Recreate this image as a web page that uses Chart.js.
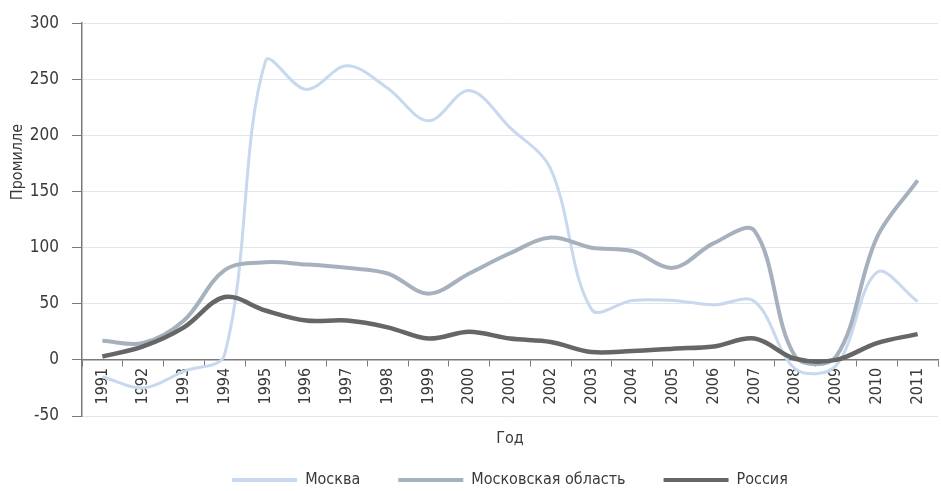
<!DOCTYPE html>
<html>
<head>
<meta charset="utf-8">
<script src="https://cdn.jsdelivr.net/npm/chart.js@4.4.1/dist/chart.umd.min.js"></script>
<style>
  html, body { margin: 0; padding: 0; background: #ffffff; }
  #chart { display: block; }
</style>
</head>
<body>
<canvas id="chart" width="941" height="491"></canvas>
<script>
const years = ['1991', '1992', '1993', '1994', '1995', '1996', '1997', '1998', '1999', '2000',
  '2001', '2002', '2003', '2004', '2005', '2006', '2007', '2008', '2009', '2010', '2011'];

const moscow = [-15, -25, -10, 5, 266, 241, 262, 242, 213, 240,
  207, 170, 45, 53, 53, 49, 52, -8, -5, 78, 52];
const moscowRegion = [17, 15, 35, 80, 87, 85, 82, 77, 59, 77,
  95, 109, 100, 97, 82, 104, 115, 3, 3, 109, 160];
const russia = [3, 12, 29, 56, 44, 35, 35, 29, 19, 25,
  19, 16, 7, 8, 10, 12, 19, 1, 0, 15, 23];

const yTicks = [-50, 0, 50, 100, 150, 200, 250, 300];

const family = "'Liberation Sans Narrow', 'DejaVu Sans Condensed', 'Roboto', sans-serif";
const textColor = '#3a3a3a';
const axisColor = '#7a7a7a';

Chart.defaults.font.family = family;
Chart.defaults.color = textColor;

// vertical title on the left, placed where the original puts it
const yTitle = {
  id: 'yTitle',
  afterDraw(chart) {
    const ctx = chart.ctx;
    ctx.save();
    ctx.translate(18, 162);
    ctx.rotate(-Math.PI / 2);
    ctx.font = '16px ' + family;
    ctx.fillStyle = textColor;
    ctx.textAlign = 'center';
    ctx.textBaseline = 'middle';
    ctx.fillText('Промилле', 0, 0);
    ctx.restore();
  }
};

const defaultLabels = Chart.defaults.plugins.legend.labels.generateLabels;

const options = {
  responsive: false,
  animation: false,
  layout: {
    padding: { top: 22, right: 3, bottom: -7, left: 0 }
  },
  elements: {
    line: { tension: 0.35 },
    point: { radius: 0, hoverRadius: 0 }
  },
  plugins: {
    tooltip: { enabled: false },
    legend: {
      position: 'bottom',
      fullSize: false,
      title: { display: true, text: '', padding: 0, font: { size: 18, lineHeight: 1 } },
      labels: {
        boxWidth: 65,
        boxHeight: 4,
        padding: 38,
        font: { size: 16 },
        color: textColor,
        sort: (a, b) => a.datasetIndex - b.datasetIndex,
        generateLabels(chart) {
          return defaultLabels(chart).map(item => {
            item.fillStyle = item.strokeStyle;
            item.lineWidth = 0;
            return item;
          });
        }
      }
    }
  },
  scales: {
    x: {
      type: 'category',
      position: { y: 0 },
      offset: true,
      grid: {
        offset: true,
        drawOnChartArea: false,
        drawTicks: true,
        tickLength: 6,
        tickColor: axisColor
      },
      border: { display: true, color: axisColor, width: 1.5 },
      ticks: {
        autoSkip: false,
        minRotation: 90,
        maxRotation: 90,
        padding: 2,
        font: { size: 16 },
        color: textColor
      },
      title: {
        display: true,
        text: 'Год',
        font: { size: 16 },
        color: textColor,
        padding: { top: 0, bottom: 1 }
      },
      afterFit(scale) {
        scale.height = 90;
      }
    },
    y: {
      min: -50,
      max: 300,
      afterBuildTicks(scale) {
        scale.ticks = yTicks.map(v => ({ value: v }));
      },
      grid: {
        color: '#dfe6ee',
        lineWidth: 1,
        tickLength: 10,
        tickColor: axisColor
      },
      border: { display: true, color: axisColor, width: 1.5 },
      ticks: {
        padding: 13,
        font: { size: 17 },
        color: textColor
      },
      afterFit(scale) {
        scale.width = 82;
      }
    }
  }
};

new Chart(document.getElementById('chart'), {
  type: 'line',
  data: {
    labels: years,
    datasets: [
      {
        label: 'Москва',
        data: moscow,
        borderColor: '#c8d8ee',
        backgroundColor: '#c8d8ee',
        borderWidth: 3,
        order: 2
      },
      {
        label: 'Московская область',
        data: moscowRegion,
        borderColor: '#a6b1bd',
        backgroundColor: '#a6b1bd',
        borderWidth: 4,
        order: 1
      },
      {
        label: 'Россия',
        data: russia,
        borderColor: '#666666',
        backgroundColor: '#666666',
        borderWidth: 4.5,
        order: 0
      }
    ]
  },
  options: options,
  plugins: [yTitle]
});
</script>
</body>
</html>
